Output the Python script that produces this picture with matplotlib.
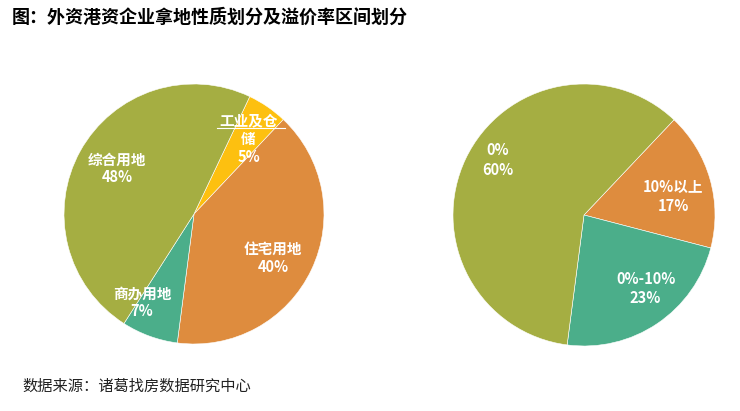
import matplotlib.pyplot as plt
import matplotlib

matplotlib.rcParams['font.family'] = ['Noto Sans CJK SC', 'DejaVu Sans']
matplotlib.rcParams['axes.unicode_minus'] = False

# 拿地性质
land_types = ['工业及仓\n储', '住宅用地', '商办用地', '综合用地']
land_share = [5, 40, 7, 48]
land_colors = ['#FDC010', '#DE8C3E', '#4BAE8A', '#A5AE42']

# 溢价率区间
premium_bins = ['10%以上', '0%-10%', '0%']
premium_share = [17, 23, 60]
premium_colors = ['#DE8C3E', '#4BAE8A', '#A5AE42']

title = '图：外资港资企业拿地性质划分及溢价率区间划分'
source = '数据来源：诸葛找房数据研究中心'

W, H = 740, 411
fig = plt.figure(figsize=(W / 100, H / 100), dpi=100)
fig.patch.set_facecolor('white')


def pie_axes(cx, cy, r):
    # 像素中心/半径 -> 图坐标
    return fig.add_axes([(cx - r) / W, (H - cy - r) / H, 2 * r / W, 2 * r / H])


ax1 = pie_axes(194, 214, 130)
ax1.pie(land_share, colors=land_colors, startangle=64.6, counterclock=False,
        wedgeprops=dict(edgecolor='white', linewidth=0.4))
ax1.set_xlim(-1, 1)
ax1.set_ylim(-1, 1)
ax1.axis('off')

# 标签位置（数据坐标）
pos1 = [(0.42, 0.58), (0.61, -0.34), (-0.40, -0.68), (-0.59, 0.35)]
for name, v, (x, y) in zip(land_types, land_share, pos1):
    ax1.text(x, y, f'{name}\n{v}%', ha='center', va='center', color='white',
             fontsize=10.5, fontweight='bold', linespacing=1.15)
ax1.plot([0.18, 0.70], [0.665, 0.665], color='white', lw=0.8)

ax2 = pie_axes(584, 215, 131)
ax2.pie(premium_share, colors=premium_colors, startangle=46.6, counterclock=False,
        wedgeprops=dict(edgecolor='white', linewidth=0.4))
ax2.set_xlim(-1, 1)
ax2.set_ylim(-1, 1)
ax2.axis('off')

pos2 = [(0.68, 0.14), (0.47, -0.56), (-0.66, 0.42)]
for name, v, (x, y) in zip(premium_bins, premium_share, pos2):
    ax2.text(x, y, f'{name}\n{v}%', ha='center', va='center', color='white',
             fontsize=10.5, fontweight='bold', linespacing=1.25)

fig.text(12 / W, 1 - 17 / H, title, ha='left', va='center',
         fontsize=13, fontweight='bold', color='black')
fig.text(22 / W, 1 - 386 / H, source, ha='left', va='center',
         fontsize=11, color='#222222')

fig.savefig('out.png', dpi=100)
